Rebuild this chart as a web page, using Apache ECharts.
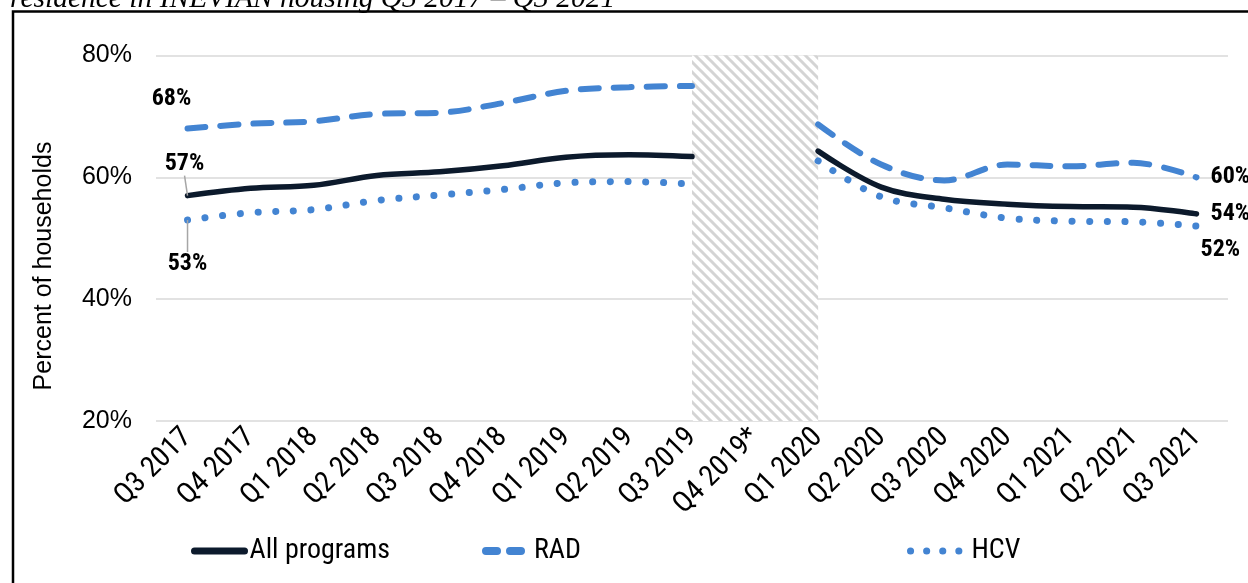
<!DOCTYPE html>
<html>
<head>
<meta charset="utf-8">
<script src="https://cdn.jsdelivr.net/npm/echarts@6/dist/echarts.min.js"></script>
<style>
  html, body { margin: 0; padding: 0; background: #fff; }
  #chart { width: 1248px; height: 583px; }
</style>
</head>
<body>
<div id="chart"></div>
<script>
// Quarterly share of households (%) by program
const categories = ['Q3 2017', 'Q4 2017', 'Q1 2018', 'Q2 2018', 'Q3 2018', 'Q4 2018',
  'Q1 2019', 'Q2 2019', 'Q3 2019', 'Q4 2019*', 'Q1 2020', 'Q2 2020', 'Q3 2020',
  'Q4 2020', 'Q1 2021', 'Q2 2021', 'Q3 2021'];
const allPrograms = [57, 58.2, 58.7, 60.3, 60.9, 61.9, 63.3, 63.7, 63.4, null, 64.3, 58.4, 56.4, 55.6, 55.2, 55.1, 54];
const rad = [68, 68.8, 69.2, 70.4, 70.6, 72.2, 74.2, 74.8, 75.0, null, 68.7, 62.1, 59.5, 62.1, 61.8, 62.4, 60];
const hcv = [53, 54.2, 54.7, 56.2, 57.1, 58.0, 59.1, 59.3, 58.9, null, 62.7, 56.8, 55.0, 53.3, 52.8, 52.7, 52];
const yTicks = [20, 40, 60, 80];
const gapFrom = 'Q3 2019';
const gapTo = 'Q1 2020';

const condensed = "'Roboto Condensed', 'Liberation Sans Narrow', 'DejaVu Sans Condensed', Roboto, sans-serif";
const sans = "'Liberation Sans', Arial, sans-serif";
const navy = '#0c1a2c';
const blue = '#4384d2';

// diagonal hatch used for the quarter without data
function hatch() {
  const c = document.createElement('canvas');
  const s = 10;
  c.width = s; c.height = s;
  const g = c.getContext('2d');
  g.fillStyle = '#ffffff';
  g.fillRect(0, 0, s, s);
  g.strokeStyle = '#d4d4d4';
  g.lineWidth = 3;
  g.beginPath();
  for (const o of [-s, 0, s]) {
    g.moveTo(o - 2, -2);
    g.lineTo(o + s + 2, s + 2);
  }
  g.stroke();
  return c;
}

const valueLabel = { show: true, fontFamily: condensed, fontWeight: 'bold', fontSize: 24, color: '#000',
  formatter: p => Math.round(p.value) + '%' };
const noGuide = { show: false };

// attach end labels to the first and last point of a series
function withEnds(arr, first, last) {
  return arr.map((v, i) => {
    if (i === 0) return { value: v, label: Object.assign({}, valueLabel, first) };
    if (i === arr.length - 1) return { value: v, label: Object.assign({}, valueLabel, last), labelLine: noGuide };
    return v;
  });
}

// shifts for end labels plus a short vertical guide under/over the start label
function endLayout(firstShift, lastShift, lastIndex) {
  return function (params) {
    if (params.dataIndex === lastIndex) {
      return { dx: lastShift[0], dy: lastShift[1] };
    }
    if (params.dataIndex !== 0) return null;
    const h = params.rect, r = params.labelRect;
    const px = h.x + h.width / 2, py = h.y + h.height / 2;
    const lx = r.x + r.width / 2 + firstShift[0];
    const ly = r.y + firstShift[1];
    let a, b;
    if (ly > py) {
      a = [px, py + 8]; b = [lx, ly - 8];
    } else {
      a = [px - 1, py - 6]; b = [lx, ly + r.height - 3];
    }
    return { dx: firstShift[0], dy: firstShift[1], labelLinePoints: [a, b, b] };
  };
}

function lineSeries(name, data, lineStyle, extra) {
  return Object.assign({
    name, type: 'line', data,
    smooth: 0.35,
    connectNulls: false,
    showSymbol: true,
    symbol: 'circle',
    symbolSize: 0.1,
    itemStyle: { color: lineStyle.color },
    lineStyle,
    label: { show: false },
    emphasis: { disabled: true },
    animation: false
  }, extra || {});
}

const legendText = { fontFamily: condensed, fontSize: 28, color: '#000' };
function legendAt(name, left, width, lineStyle) {
  return {
    data: [name], left, top: 532, itemWidth: width, itemHeight: 14,
    itemStyle: { opacity: 0 },
    lineStyle,
    textStyle: legendText
  };
}

const guide = { show: true, lineStyle: { color: '#a6a6a6', width: 1.5 } };
const last = categories.length - 1;

const chart = echarts.init(document.getElementById('chart'), null, { renderer: 'canvas' });

chart.setOption({
  backgroundColor: '#fff',
  animation: false,
  grid: { left: 156, right: 20, top: 55.5, bottom: 162, containLabel: false },
  xAxis: {
    type: 'category',
    data: categories,
    boundaryGap: true,
    axisLine: { show: false },
    axisTick: { show: false },
    axisLabel: { rotate: 45, margin: 12, fontFamily: condensed, fontSize: 29, color: '#000', interval: 0 }
  },
  yAxis: {
    type: 'value',
    min: yTicks[0], max: yTicks[yTicks.length - 1], interval: 20,
    axisLine: { show: false },
    axisTick: { show: false },
    axisLabel: { formatter: '{value}%', margin: 24, fontFamily: sans, fontSize: 25, color: '#000' },
    splitLine: { lineStyle: { color: '#d9d9d9', width: 1.5 } }
  },
  legend: [
    legendAt('All programs', 186, 50, { width: 7 }),
    legendAt('RAD', 477, 43, { width: 8, type: [11, 13] }),
    legendAt('HCV', 902, 56, { width: 7, type: [0.1, 16] })
  ],
  graphic: [
    { type: 'rect', shape: { x: 13, y: 11.5, width: 1400, height: 800 },
      style: { fill: 'none', stroke: '#000', lineWidth: 2.5 }, silent: true, z: -1 },
    { type: 'text', x: 10, y: 14,
      style: { text: 'residence in INEVIAN housing Q3 2017 \u2013 Q3 2021', font: "italic 29.5px 'Liberation Serif', 'Times New Roman', serif",
        fill: '#000', textVerticalAlign: 'bottom', verticalAlign: 'bottom' }, silent: true },
    { type: 'text', x: 44, y: 266, rotation: Math.PI / 2,
      style: { text: 'Percent of households', font: "25px 'Liberation Sans', Arial, sans-serif", fill: '#000',
        align: 'center', verticalAlign: 'middle', textAlign: 'center', textVerticalAlign: 'middle' }, silent: true }
  ],
  series: [
    lineSeries('All programs',
      withEnds(allPrograms,
        { position: 'top', distance: 20 },
        { position: 'right', distance: 14 }),
      { color: navy, width: 5.5, type: 'solid', cap: 'round' },
      {
        z: 4,
        labelLine: guide,
        labelLayout: endLayout([-3, 0], [0, 0], last),
        markArea: {
          silent: true,
          itemStyle: { color: { image: hatch(), repeat: 'repeat' } },
          data: [[{ xAxis: gapFrom }, { xAxis: gapTo }]]
        }
      }),
    lineSeries('RAD',
      withEnds(rad,
        { position: 'top', distance: 5, offset: [-16, -13] },
        { position: 'right', distance: 14 }),
      { color: blue, width: 6, type: [18, 15], cap: 'round' },
      { z: 3 }),
    lineSeries('HCV',
      withEnds(hcv,
        { position: 'bottom', distance: 32 },
        { position: 'right', distance: 12 }),
      { color: blue, width: 7, type: [0.1, 17.6], cap: 'round' },
      { z: 2, labelLine: guide, labelLayout: endLayout([0, 0], [-8, 24], last) })
  ]
});
</script>
</body>
</html>
